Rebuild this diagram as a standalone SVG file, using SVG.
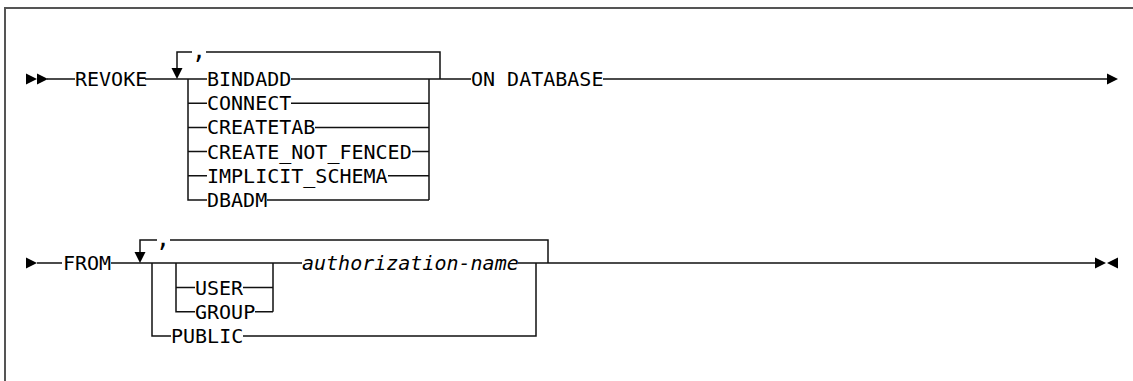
<svg xmlns="http://www.w3.org/2000/svg" width="1133" height="381" viewBox="0 0 1133 381">
<style>
.t{font-family:"DejaVu Sans Mono","Liberation Mono",monospace;font-size:20px;fill:#000}
.c{font-family:"DejaVu Sans Mono","Liberation Mono",monospace;font-size:24px;fill:#000}
.i{font-style:italic}
.l{fill:none;stroke:#111;stroke-width:1.5}
.frame{fill:none;stroke:#555;stroke-width:2}
.a{fill:#000}
</style>
<defs>
<polygon id="tr" points="0,-5.5 11,0 0,5.5"/>
<polygon id="tl" points="11,-5.5 0,0 11,5.5"/>
<polygon id="td" points="-5.5,-11 5.5,-11 0,0"/>
</defs>
<path class="frame" d="M5,381 V8 H1133"/>
<g id="connectors">
<path class="l" d="M47,79 H75 M145,79 H207 M188,79 V200 H207 M188,103.2 H207 M188,127.4 H207 M188,151.6 H207 M188,175.8 H207"/>
<path class="l" d="M291,79 H429 M291,103.2 H429 M315,127.4 H429 M412,151.6 H429 M388,175.8 H429 M267,200 H429 M429,79 V200 M429,79 H471 M603,79 H1108"/>
<path class="l" d="M177,70 V52 H192 M206,52 H440 V79"/>
<path class="l" d="M37,263 H62 M111,263 H302 M152,263 V336 H171 M243,336 H536 V263 M176,263 V311.7 H195 M176,287.5 H195 M243,287.5 H273 M255,311.7 H273 M273,263 V311.7 M518,263 H1096"/>
<path class="l" d="M140,254 V240 H157 M170,240 H548 V263"/>
<use href="#tr" class="a" x="26" y="79"/>
<use href="#tr" class="a" x="37" y="79"/>
<use href="#td" class="a" x="177" y="79"/>
<use href="#tr" class="a" x="1107" y="79"/>
<use href="#tr" class="a" x="26" y="263"/>
<use href="#td" class="a" x="140" y="263"/>
<use href="#tr" class="a" x="1095" y="263"/>
<use href="#tl" class="a" x="1107" y="263"/>
</g>
<g id="revoke"><text class="t" x="75" y="86">REVOKE</text></g>
<g id="comma1"><text class="c" x="199" y="59" text-anchor="middle">,</text></g>
<g id="bindadd"><text class="t" x="207" y="86">BINDADD</text></g>
<g id="connect"><text class="t" x="207" y="110.2">CONNECT</text></g>
<g id="createtab"><text class="t" x="207" y="134.4">CREATETAB</text></g>
<g id="create_not_fenced"><text class="t" x="207" y="158.6">CREATE_NOT_FENCED</text></g>
<g id="implicit_schema"><text class="t" x="207" y="182.8">IMPLICIT_SCHEMA</text></g>
<g id="dbadm"><text class="t" x="207" y="207">DBADM</text></g>
<g id="on_database"><text class="t" x="471" y="86">ON DATABASE</text></g>
<g id="from"><text class="t" x="63" y="270">FROM</text></g>
<g id="comma2"><text class="c" x="163" y="247" text-anchor="middle">,</text></g>
<g id="user"><text class="t" x="195" y="294.5">USER</text></g>
<g id="group"><text class="t" x="195" y="318.7">GROUP</text></g>
<g id="public"><text class="t" x="171" y="343">PUBLIC</text></g>
<g id="authorization_name"><text class="t i" x="302" y="270">authorization-name</text></g>
</svg>
